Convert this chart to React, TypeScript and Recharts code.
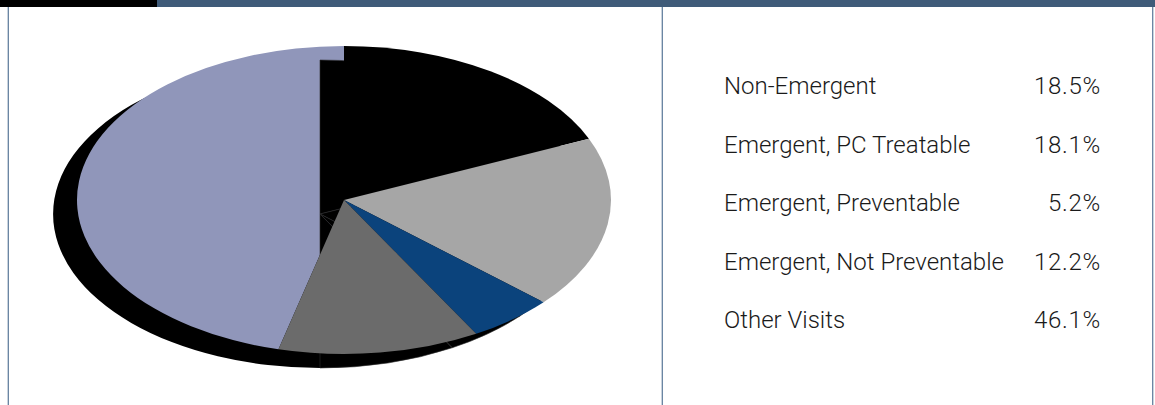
import React from "react";
import { PieChart, Pie, Cell } from "recharts";

const categories = [
  "Non-Emergent",
  "Emergent, PC Treatable",
  "Emergent, Preventable",
  "Emergent, Not Preventable",
  "Other Visits",
];
const shares = [18.5, 18.1, 5.2, 12.2, 46.1];
const sliceColors = ["#000000", "#a6a6a6", "#0b437c", "#6b6b6b", "#9096ba"];
const rowBaselines = [93.5, 152.5, 211, 269.5, 328];
const ruleOffsets = [8.3, 662.3, 1152.7];

const visits = categories.map((name, i) => ({ name, value: shares[i] }));

const WIDTH = 1155;
const HEIGHT = 405;
const CENTER_X = 344;
const CENTER_Y = 200;
const RADIUS = 267;
const SQUASH = 154 / 267; // tilt of the pie: vertical radius over horizontal radius
const SHADOW_X = 320;
const SHADOW_Y = 214;
const START_ANGLE = 90;
const END_ANGLE = -270;
const SHADOW_SPLIT = -90; // bottom of the pie, where the two shadow halves meet
const RULE_COLOR = "#64809f";
const FONT = "Roboto, 'Liberation Sans', sans-serif";

// Flattened pie slice: an elliptical wedge built from the angles the Pie computes.
function wedgePath(cx: number, cy: number, r: number, from: number, to: number) {
  const rad = Math.PI / 180;
  const x0 = cx + r * Math.cos(from * rad);
  const y0 = cy - r * SQUASH * Math.sin(from * rad);
  const x1 = cx + r * Math.cos(to * rad);
  const y1 = cy - r * SQUASH * Math.sin(to * rad);
  const large = Math.abs(from - to) > 180 ? 1 : 0;
  return `M${cx},${cy}L${x0},${y0}A${r},${r * SQUASH} 0 ${large} 1 ${x1},${y1}Z`;
}

function EllipticWedge(props: any) {
  const { cx, cy, outerRadius, startAngle, endAngle, fill, stroke, strokeWidth, fillOpacity } = props;
  return (
    <path
      d={wedgePath(cx, cy, outerRadius, startAngle, endAngle)}
      fill={fill}
      fillOpacity={fillOpacity}
      stroke={stroke}
      strokeWidth={strokeWidth}
    />
  );
}

// The near half of the drop shadow: slices are cut off at the bottom of the pie.
function NearShadowWedge(props: any) {
  if (props.startAngle <= SHADOW_SPLIT) return null;
  return <EllipticWedge {...props} endAngle={Math.max(props.endAngle, SHADOW_SPLIT)} />;
}

// The far half of the drop shadow is one unbroken wedge, drawn by the slice that straddles the split.
function FarShadowWedge(props: any) {
  if (props.startAngle <= SHADOW_SPLIT || props.endAngle >= SHADOW_SPLIT) return null;
  return <EllipticWedge {...props} startAngle={SHADOW_SPLIT} endAngle={END_ANGLE} />;
}

const pieBase = {
  dataKey: "value",
  nameKey: "name",
  data: visits,
  startAngle: START_ANGLE,
  endAngle: END_ANGLE,
  outerRadius: RADIUS,
  isAnimationActive: false,
  labelLine: false,
  legendType: "none" as const,
};

export default function App() {
  return (
    <div style={{ position: "absolute", left: 0, top: 0, width: WIDTH, height: HEIGHT, overflow: "hidden", background: "#fff" }}>
      {/* Frame: top band and panel rules */}
      <svg width={WIDTH} height={HEIGHT} style={{ position: "absolute", left: 0, top: 0 }}>
        {ruleOffsets.map((x) => (
          <line key={x} x1={x} x2={x} y1={7} y2={HEIGHT} stroke={RULE_COLOR} strokeWidth={1.3} />
        ))}
        <rect x={0} y={0} width={WIDTH} height={7} fill="#3f5b79" />
        <rect x={0} y={0} width={157} height={7} fill="#000" />
      </svg>

      <div style={{ position: "absolute", left: 0, top: 0 }}>
        <PieChart width={WIDTH} height={HEIGHT} margin={{ top: 0, right: 0, bottom: 0, left: 0 }}>
          {/* far half of the shadow, behind everything */}
          <Pie {...pieBase} cx={SHADOW_X} cy={SHADOW_Y} fill="#000" stroke="none" shape={FarShadowWedge} />
          {/* the large slice sits between the two shadow halves */}
          <Pie {...pieBase} cx={CENTER_X} cy={CENTER_Y} stroke="none" shape={EllipticWedge}>
            {visits.map((v, i) => (
              <Cell key={v.name} fill={sliceColors[i]} fillOpacity={i === 4 ? 1 : 0} />
            ))}
          </Pie>
          <Pie {...pieBase} cx={SHADOW_X} cy={SHADOW_Y} fill="#000" stroke="#2e2e2e" strokeWidth={0.6} shape={NearShadowWedge} />
          {/* remaining slices on top */}
          <Pie {...pieBase} cx={CENTER_X} cy={CENTER_Y} stroke="none" shape={EllipticWedge}>
            {visits.map((v, i) => (
              <Cell key={v.name} fill={sliceColors[i]} fillOpacity={i === 4 ? 0 : 1} />
            ))}
          </Pie>
        </PieChart>
      </div>

      {/* Key table beside the pie */}
      <svg width={WIDTH} height={HEIGHT} style={{ position: "absolute", left: 0, top: 0 }}>
        {categories.map((name, i) => (
          <g key={name} fontFamily={FONT} fontWeight={300} fontSize={24} fill="#1a1a1a">
            <text x={724} y={rowBaselines[i]}>{name}</text>
            <text x={1101} y={rowBaselines[i]} textAnchor="end" letterSpacing={0.7}>{shares[i].toFixed(1)}%</text>
          </g>
        ))}
      </svg>
    </div>
  );
}
